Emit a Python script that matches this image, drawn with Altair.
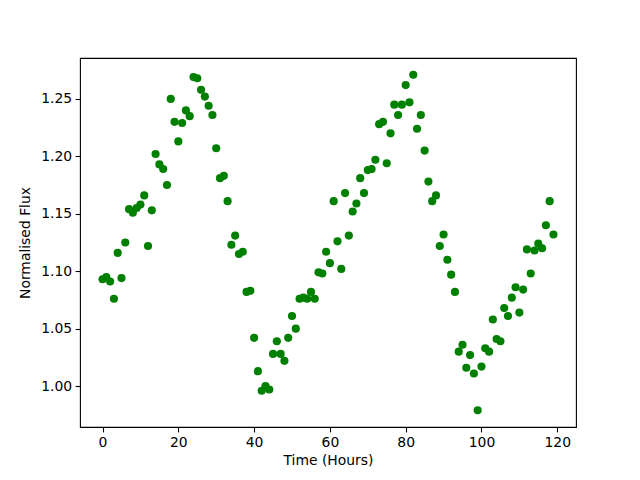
import altair as alt
import pandas as pd

hours = list(range(120))
flux = [
    1.093, 1.095, 1.091, 1.076, 1.116, 1.094, 1.125, 1.154, 1.151, 1.155,
    1.158, 1.166, 1.122, 1.153, 1.202, 1.193, 1.189, 1.175, 1.250, 1.230,
    1.213, 1.229, 1.240, 1.235, 1.269, 1.268, 1.258, 1.252, 1.244, 1.236,
    1.207, 1.181, 1.183, 1.161, 1.123, 1.131, 1.115, 1.117, 1.082, 1.083,
    1.042, 1.013, 0.996, 1.000, 0.997, 1.028, 1.039, 1.028, 1.022, 1.042,
    1.061, 1.050, 1.076, 1.077, 1.076, 1.082, 1.076, 1.099, 1.098, 1.117,
    1.107, 1.161, 1.126, 1.102, 1.168, 1.131, 1.152, 1.159, 1.181, 1.168,
    1.188, 1.189, 1.197, 1.228, 1.230, 1.194, 1.220, 1.245, 1.236, 1.245,
    1.262, 1.247, 1.271, 1.224, 1.236, 1.205, 1.178, 1.161, 1.166, 1.122,
    1.132, 1.110, 1.097, 1.082, 1.030, 1.036, 1.016, 1.027, 1.011, 0.979,
    1.017, 1.033, 1.030, 1.058, 1.041, 1.039, 1.068, 1.061, 1.077, 1.086,
    1.064, 1.084, 1.119, 1.098, 1.118, 1.124, 1.120, 1.140, 1.161, 1.132,
]
x_ticks = [0, 20, 40, 60, 80, 100, 120]
y_ticks = [1.00, 1.05, 1.10, 1.15, 1.20, 1.25]

df = pd.DataFrame({"hours": hours, "flux": flux})

font = "DejaVu Sans"
fs = 13.9

chart = alt.Chart(df).mark_circle(size=66, color="#008000", opacity=1).encode(
    x=alt.X("hours:Q", title="Time (Hours)",
            scale=alt.Scale(domain=[-5.95, 124.95], nice=False, zero=False),
            axis=alt.Axis(values=x_ticks, grid=False, domain=False, tickColor="black",
                          tickSize=4.9, tickWidth=1.1, labelPadding=3.5, labelFont=font,
                          labelFontSize=fs, labelColor="black", titleFont=font,
                          titleFontSize=fs, titleFontWeight="normal", titleColor="black",
                          titlePadding=4, labelFlush=False)),
    y=alt.Y("flux:Q", title="Normalised Flux",
            scale=alt.Scale(domain=[0.9644, 1.2856], nice=False, zero=False),
            axis=alt.Axis(values=y_ticks, format=".2f", grid=False, domain=False,
                          tickColor="black", tickSize=4.9, tickWidth=1.1, labelPadding=3.5,
                          labelFont=font, labelFontSize=fs, labelColor="black",
                          titleFont=font, titleFontSize=fs, titleFontWeight="normal",
                          titleColor="black", titlePadding=8, labelFlush=False)),
).properties(
    width=496, height=369,
    autosize=alt.AutoSizeParams(type="none"),
    padding={"left": 72, "top": 50, "right": 56, "bottom": 45},
    background="white",
).configure_view(stroke="black", strokeWidth=1.1, strokeOpacity=1)

chart.save("out.html", embed_options={"renderer": "svg", "actions": False})
